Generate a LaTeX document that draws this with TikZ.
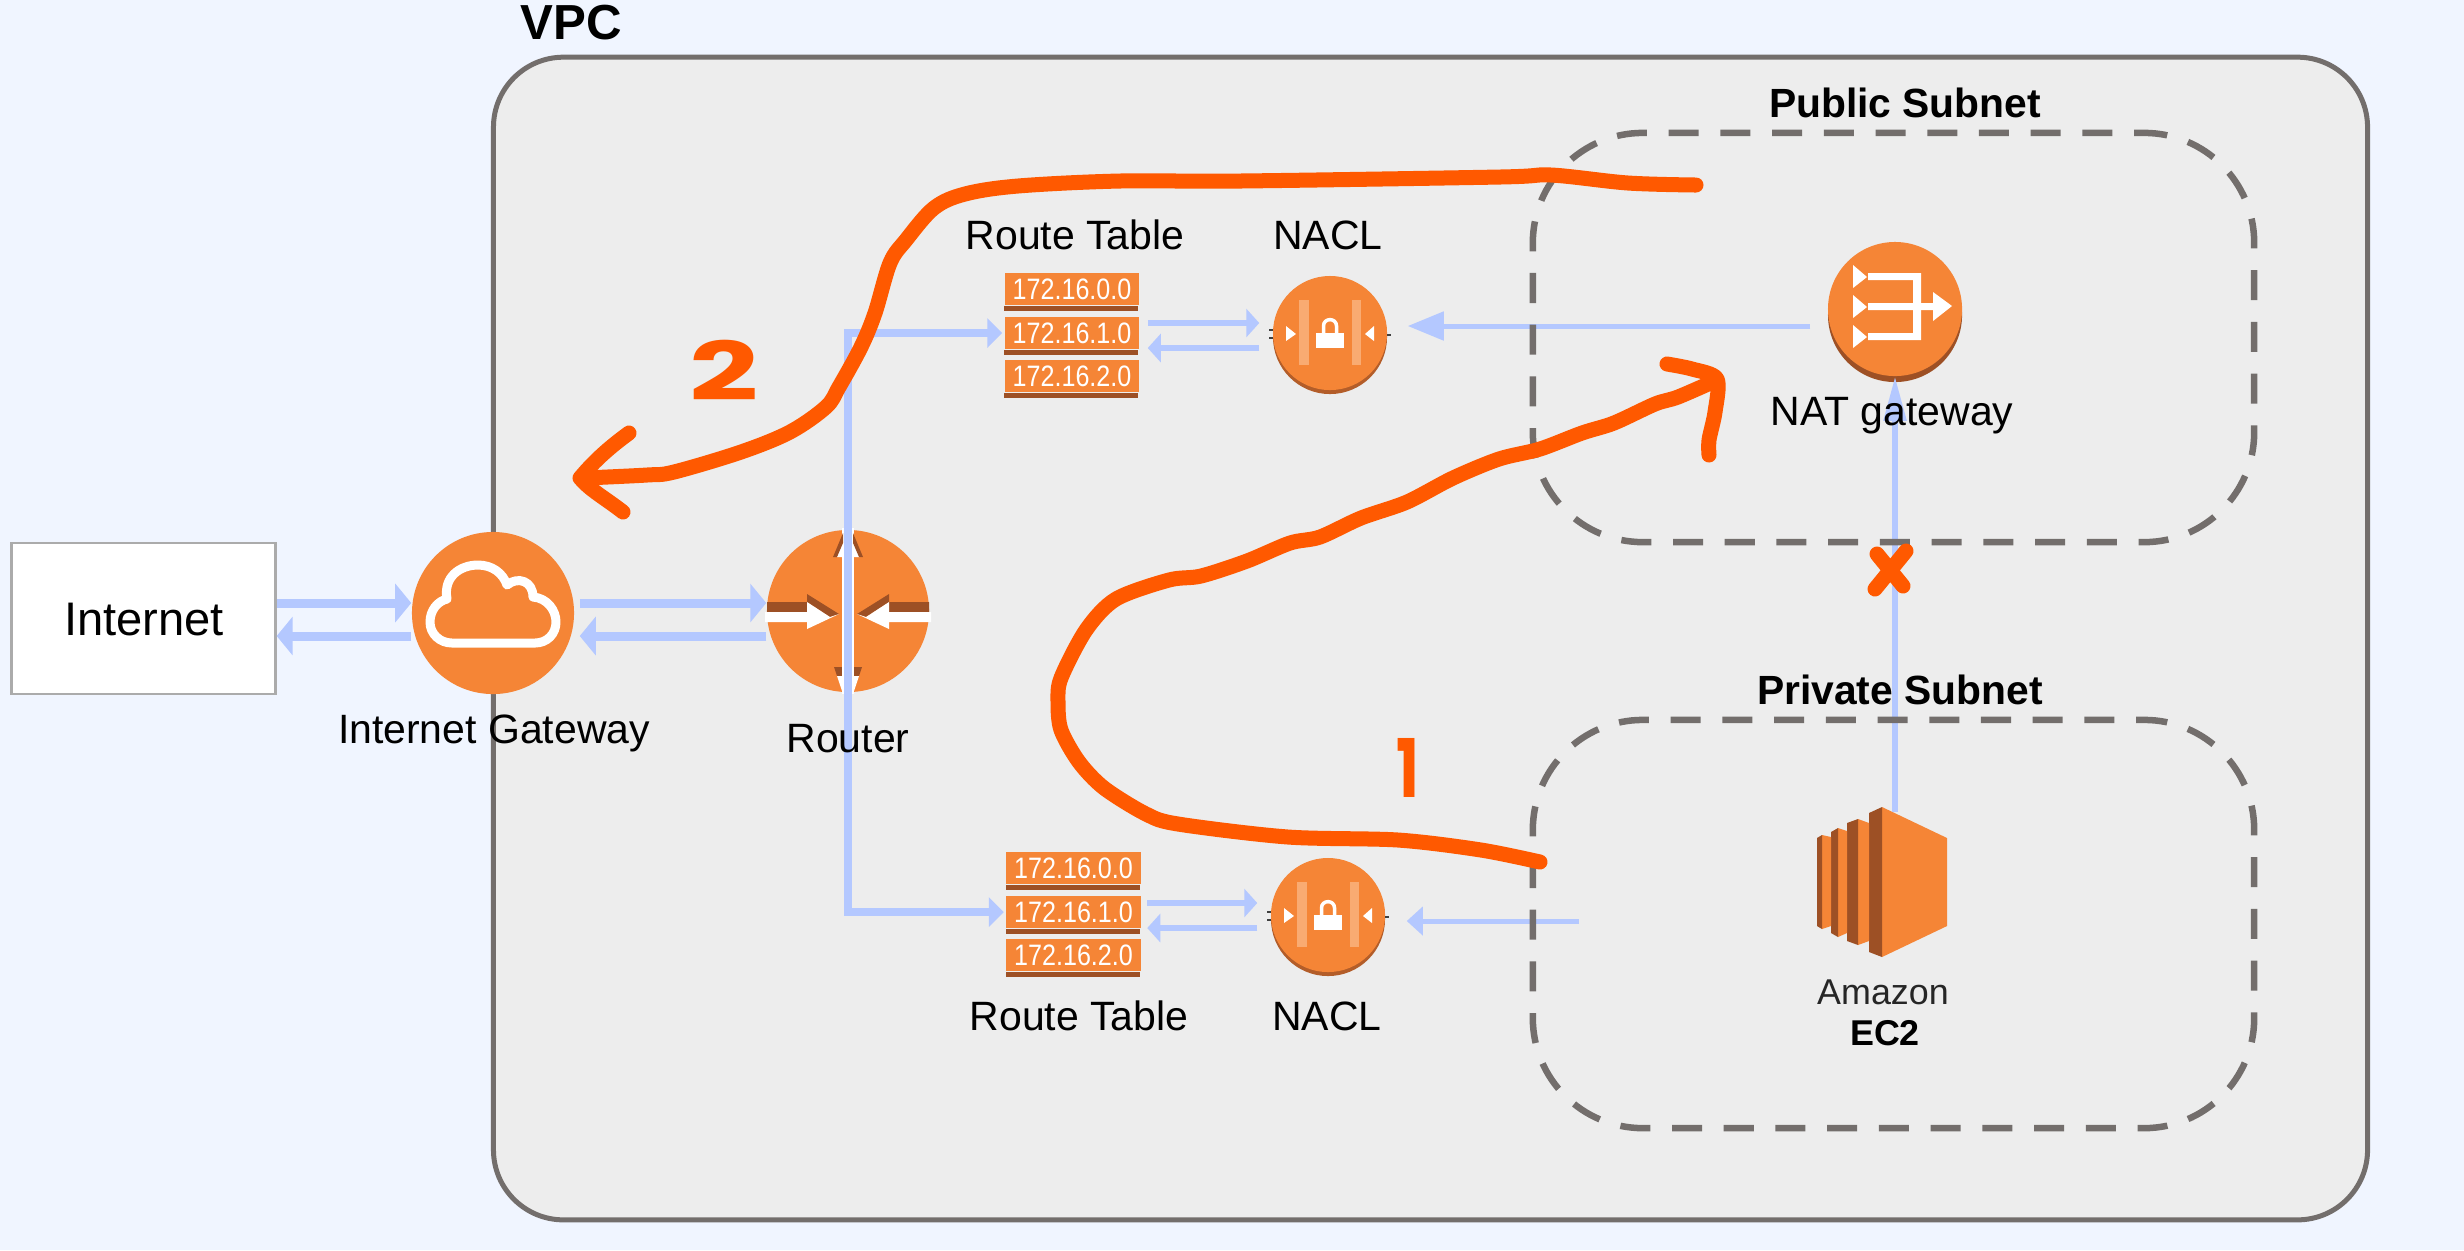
\documentclass[tikz,border=0pt]{standalone}
\usepackage{fontspec}
\setmainfont{Liberation Sans}
\newfontfamily\condsans[FakeStretch=0.85]{Liberation Sans}
\newfontfamily\handfont{Poppins}
\usetikzlibrary{arrows.meta}
\definecolor{bgc}{HTML}{F0F5FF}
\definecolor{vpcfill}{HTML}{EDEDED}
\definecolor{edgec}{HTML}{736E6C}
\definecolor{flow}{HTML}{B4C8FF}
\definecolor{awso}{HTML}{F58536}
\definecolor{awsb}{HTML}{9D5025}
\definecolor{awsl}{HTML}{F9AB72}
\definecolor{ink}{HTML}{FF5900}
\tikzset{
  plabel/.style={anchor=base,inner sep=0pt,font=\fontsize{11.65}{13}\selectfont},
  blabel/.style={anchor=base,inner sep=0pt,font=\fontsize{11.6}{13}\selectfont\bfseries},
  roundicon/.style={circle,fill=awso,inner sep=0pt,minimum size=#1},
  subnet/.style={rectangle,draw=edgec,line width=.065cm,rounded corners=1.1cm,dash pattern=on .3cm off .217cm,inner sep=0pt,minimum width=7.21cm},
  bigflow/.style={draw=flow,line width=.09cm,-{Triangle[length=.16cm,width=.38cm]}},
  midflow/.style={draw=flow,line width=.06cm,-{Triangle[length=.13cm,width=.28cm]}},
  trunk/.style={draw=flow,line width=.075cm,-{Triangle[length=.15cm,width=.29cm]}},
  rowbox/.style={rectangle,fill=awso,inner sep=0pt,minimum width=1.34cm,minimum height=.32cm,text=white,font=\condsans\fontsize{8.4}{9}\selectfont},
  pen/.style={draw=ink,line width=.15cm,line cap=round,line join=round},
  handmark/.style={text=ink,inner sep=0pt,font=\handfont\bfseries\fontsize{23}{24}\selectfont},
  tickmark/.style={draw=black!75,line width=.012cm},
}
\newcommand{\routetable}[3]{%
  \begin{scope}[shift={(#2,#3)}]
    \node[rowbox] (#1a) at (67,16) {172.16.0.0};
    \node[rowbox] (#1b) at (67,60) {172.16.1.0};
    \node[rowbox] (#1c) at (67,103) {172.16.2.0};
    \fill[awsb] (#1a.south west) rectangle ++(1.34cm,-.055cm);
    \fill[awsb] (#1b.south west) rectangle ++(1.34cm,-.055cm);
    \fill[awsb] (#1c.south west) rectangle ++(1.34cm,-.055cm);
  \end{scope}}
\newcommand{\naclicon}[3]{%
  \begin{scope}[shift={(#2,#3)}]
    \fill[awsb!75!awso] (0,4) circle (.57cm);
    \node[roundicon=1.14cm] (#1) at (0,0) {};
    \fill[awsl] (-31,-33) rectangle (-21,32);
    \fill[awsl] (22,-33) rectangle (31,32);
    \fill[white] (-44,-7) -- (-34,1) -- (-44,8) -- cycle;
    \fill[white] (44,-7) -- (35,1) -- (44,8) -- cycle;
    \fill[white] (-14,0) rectangle (14,15);
    \draw[white,line width=.035cm] (-6.5,1) -- (-6.5,-7) .. controls (-6.5,-15.5) and (6.5,-15.5) .. (6.5,-7) -- (6.5,1);
    \draw[tickmark] (-61,-3) -- (-57,-3);
    \draw[tickmark] (-61,5) -- (-57,5);
    \draw[tickmark] (57,2) -- (61,2);
  \end{scope}}
\begin{document}
\begin{tikzpicture}[x=.01cm,y=-.01cm]
\useasboundingbox (0,0) rectangle (2464,1250);
\fill[bgc] (0,0) rectangle (2464,1250);

% VPC container
\node[rectangle,draw=edgec,fill=vpcfill,line width=.05cm,rounded corners=.7cm,inner sep=0pt,minimum width=18.73cm,minimum height=11.62cm] (vpc) at (1430.5,638.5) {};
\node[anchor=base west,inner sep=0pt,font=\fontsize{14}{15}\selectfont\bfseries] (vpclabel) at (520,39) {VPC};

% Named rows of the flow lines
\coordinate (yUp) at (0,603);
\coordinate (yLo) at (0,636);
\coordinate (yNatIn) at (0,326);
\coordinate (yA1) at (0,323);
\coordinate (yA2) at (0,348);
\coordinate (yB1) at (0,903);
\coordinate (yB2) at (0,928);
\coordinate (privIn) at (1579,921);

% Internet
\node[rectangle,draw=black!33,fill=white,line width=.022cm,inner sep=0pt,minimum width=2.64cm,minimum height=1.51cm] (inet) at (143.5,618.5) {};
\node[anchor=base,inner sep=0pt,font=\fontsize{13.4}{15}\selectfont] (inetlabel) at (144,635) {Internet};

% Internet gateway
\node[roundicon=1.62cm] (igw) at (493,613) {};
\draw[white,line width=.09cm,line join=round] (447,599) .. controls (443,577) and (460,565) .. (478,565) .. controls (492,565) and (503,573) .. (507,585) .. controls (518,576) and (533,581) .. (533,597) .. controls (547,598) and (556,610) .. (556,622) .. controls (556,634) and (547,643) .. (535,643) -- (452,643) .. controls (440,643) and (430,634) .. (430,622) .. controls (430,610) and (438,601) .. (447,599) -- cycle;

% Router
\node[roundicon=1.62cm] (router) at (848,611) {};
\fill[white] (842,528) rectangle (854,694);
\fill[awsb] (767,602) -- (807,602) -- (807,594) -- (839,614) -- (830,617) -- (807,602) -- (807,612) -- (767,612) -- cycle;
\fill[white] (765,612) -- (807,612) -- (807,602) -- (830,617) -- (839,614) -- (807,629) -- (807,622) -- (765,622) -- cycle;
\fill[awsb] (929,602) -- (889,602) -- (889,594) -- (857,614) -- (866,617) -- (889,602) -- (889,612) -- (929,612) -- cycle;
\fill[white] (931,612) -- (889,612) -- (889,602) -- (866,617) -- (857,614) -- (889,629) -- (889,622) -- (931,622) -- cycle;
\fill[white] (837,557) -- (843,533) -- (853,533) -- (860,557) -- cycle;
\fill[awsb] (843,533) -- (833,557) -- (837,557) -- (843,543) -- cycle;
\fill[awsb] (853,533) -- (863,557) -- (859,557) -- (853,543) -- cycle;
\fill[awsb] (834,667) -- (862,667) -- (859,676) -- (837,676) -- cycle;
\fill[white] (842,667) rectangle (854,676);
\fill[white] (837,676) -- (859,676) -- (854,691) -- (842,691) -- cycle;

% Route tables and NACLs
\routetable{rtA}{1005}{273}
\routetable{rtB}{1006.5}{852}
\naclicon{naclA}{1330}{333}
\naclicon{naclB}{1328}{915}

% NAT gateway
\fill[awsb] (1895,315) circle (.67cm);
\node[roundicon=1.34cm] (nat) at (1895,309) {};
\fill[white] (1853,265) -- (1867,277) -- (1853,288) -- cycle;
\fill[white] (1853,295) -- (1867,307) -- (1853,318) -- cycle;
\fill[white] (1853,325) -- (1867,337) -- (1853,348) -- cycle;
\fill[white] (1868,273) -- (1921,273) -- (1921,340) -- (1868,340) -- (1868,333) -- (1913,333) -- (1913,280) -- (1868,280) -- cycle;
\fill[white] (1868,303) -- (1933,303) -- (1933,292) -- (1952,306) -- (1933,321) -- (1933,310) -- (1868,310) -- cycle;

% EC2
\node[inner sep=0pt,minimum width=1.3cm,minimum height=1.44cm] (ec2) at (1882,885) {};
\fill[awso] (1882,807) -- (1947,838) -- (1947,926) -- (1882,957) -- cycle;
\fill[awsb] (1869,813) -- (1882,807) -- (1882,957) -- (1869,952) -- cycle;
\fill[awso] (1858,819) -- (1869,823) -- (1869,941) -- (1858,945) -- cycle;
\fill[awsb] (1847,823) -- (1858,819) -- (1858,945) -- (1847,941) -- cycle;
\fill[awso] (1838,828) -- (1847,831) -- (1847,933) -- (1838,937) -- cycle;
\fill[awsb] (1831,832) -- (1838,828) -- (1838,937) -- (1831,933) -- cycle;
\fill[awso] (1822,835) -- (1831,837) -- (1831,926) -- (1822,929) -- cycle;
\fill[awsb] (1817,838) -- (1822,835) -- (1822,929) -- (1817,926) -- cycle;

% Flow connectors
\draw[bigflow] (inet.east |- yUp) -- (igw.west |- yUp);
\draw[bigflow] (igw.west |- yLo) -- (inet.east |- yLo);
\draw[bigflow,shorten <=.05cm] (igw.east |- yUp) -- (router.west |- yUp);
\draw[bigflow,shorten >=.05cm] (router.west |- yLo) -- (igw.east |- yLo);
\draw[trunk,shorten >=.02cm] (router.center) |- (rtAb.west);
\draw[trunk,shorten >=.02cm] (router.center) |- (rtBb.west);
\draw[midflow,shorten <=.08cm,shorten >=.13cm] (rtAb.east |- yA1) -- (naclA.west |- yA1);
\draw[midflow,shorten >=.08cm,shorten <=.13cm] (naclA.west |- yA2) -- (rtAb.east |- yA2);
\draw[midflow,shorten <=.06cm,shorten >=.13cm] (rtBb.east |- yB1) -- (naclB.west |- yB1);
\draw[midflow,shorten >=.06cm,shorten <=.13cm] (naclB.west |- yB2) -- (rtBb.east |- yB2);
\draw[draw=flow,line width=.05cm,-{Triangle[length=.36cm,width=.28cm]},shorten <=.17cm,shorten >=.2cm] (nat.west |- yNatIn) -- (naclA.east |- yNatIn);
\draw[draw=flow,line width=.05cm,-{Triangle[length=.16cm,width=.28cm]},shorten >=.21cm] (privIn) -- (naclB.east |- privIn);
\draw[draw=flow,line width=.055cm,-{Triangle[length=.44cm,width=.22cm]}] (ec2.north -| nat.south) -- (nat.south);

% Subnets
\node[subnet,dash phase=.2cm,minimum height=4.09cm] (pub) at (1893.5,337.5) {};
\node[subnet,dash phase=.22cm,minimum height=4.08cm] (priv) at (1893.5,924) {};
\node[blabel] (publabel) at (1905,117) {Public Subnet};
\node[blabel] (privlabel) at (1900,704) {Private Subnet};

% Labels
\node[plabel] (igwlabel) at (494,743) {Internet Gateway};
\node[plabel] (routerlabel) at (848,752) {Router};
\node[plabel] (rtAlabel) at (1075,249) {Route Table};
\node[plabel] (naclAlabel) at (1328,249) {NACL};
\node[plabel] (rtBlabel) at (1079,1030) {Route Table};
\node[plabel] (naclBlabel) at (1327,1030) {NACL};
\node[plabel] (natlabel) at (1892,425) {NAT gateway};
\node[anchor=base,inner sep=0pt,text=black!85,font=\fontsize{10.2}{12}\selectfont] (amazonlabel) at (1883,1004) {Amazon};
\node[anchor=base,inner sep=0pt,font=\fontsize{10.2}{12}\selectfont\bfseries] (ec2label) at (1885,1045) {EC2};

% Hand-drawn annotations
\draw[pen] plot[smooth,tension=.55] coordinates {(1696,185) (1628,183) (1551,175) (1500,177) (1240,181) (1120,181) (1018,186) (965,194) (934,208) (906,240) (890,263) (875,313) (861,347) (839,387) (826,407) (790,432) (741,452) (674,472) (647,475) (585,478)};
\draw[pen] (629,433) .. controls (610,447) and (595,460) .. (580,478) .. controls (590,490) and (605,498) .. (623,512);
\draw[pen] plot[smooth,tension=.5] coordinates {(1540,862) (1481,850) (1398,840) (1288,837) (1178,824) (1146,814) (1104,788) (1079,762) (1061,730) (1058,702) (1061,678) (1086,630) (1116,599) (1169,580) (1201,576) (1247,561) (1290,543) (1320,537) (1361,518) (1407,502) (1453,478) (1499,459) (1540,449) (1582,433) (1614,423) (1655,404) (1678,397) (1717,380)};
\draw[pen] plot[smooth,tension=.5] coordinates {(1667,364) (1692,369) (1717,379) (1715,412) (1709,440) (1709,455)};
\draw[pen] (1877,554) -- (1903,586);
\draw[pen] (1906,551) -- (1875,589);
\node[handmark] (mark2) at (724,370) {\scalebox{1.5}[1]{2}};
\node[handmark] (mark1) at (1408,768) {\scalebox{.75}[1]{1}};
\end{tikzpicture}
\end{document}
